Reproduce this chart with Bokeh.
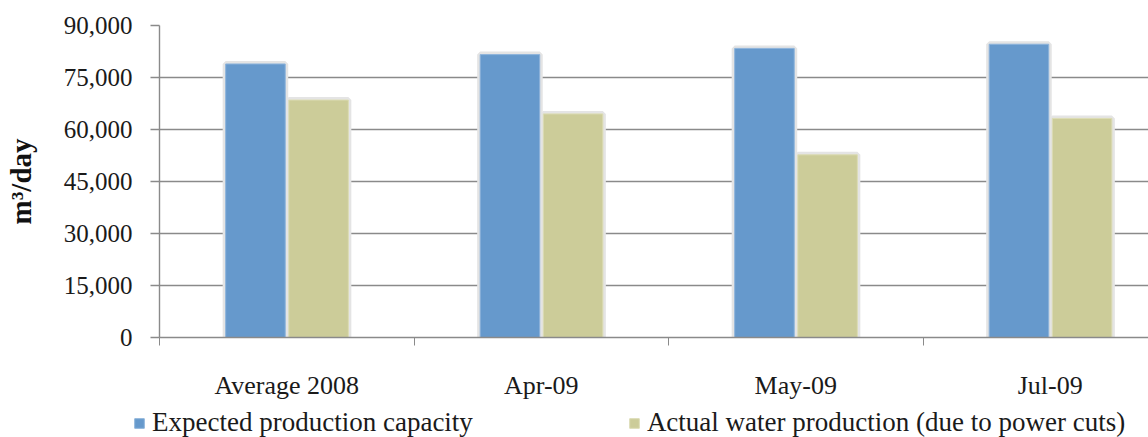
from bokeh.plotting import figure
from bokeh.models import (Range1d, FixedTicker, NumeralTickFormatter, Legend,
                          LegendItem, ColumnDataSource)
from bokeh.transform import dodge
from bokeh.embed import file_html
from bokeh.resources import INLINE

categories = ["Average 2008", "Apr-09", "May-09", "Jul-09"]
expected = [78900, 81600, 83400, 84600]
actual = [68500, 64500, 52700, 63200]
y_ticks = [0, 15000, 30000, 45000, 60000, 75000, 90000]
series_names = ["Expected production capacity",
                "Actual water production (due to power cuts)"]

x = [i + 0.5 for i in range(len(categories))]
source = ColumnDataSource(dict(x=x, expected=expected, actual=actual))

FONT = "Liberation Serif"
BLUE = "#6699CC"
TAN = "#CCCC99"
GRAY = "#8a8a8a"

p = figure(width=1148, height=405, x_range=Range1d(0, 3.886),
           y_range=Range1d(0, 90000), output_backend="svg",
           toolbar_location=None, min_border_left=159, min_border_top=25,
           min_border_bottom=68, min_border_right=0)
p.outline_line_color = None
p.background_fill_color = "white"
p.xgrid.visible = False
p.ygrid.grid_line_color = GRAY
p.ygrid.grid_line_width = 1.4

# soft shadows behind bars
p.vbar(x=dodge("x", -0.123), top="expected", width=0.234, fill_color=None,
       line_color="#e4e4e4", line_width=6, source=source)
p.vbar(x=dodge("x", 0.125), top="actual", width=0.234, fill_color=None,
       line_color="#e4e4e4", line_width=6, source=source)

p.vbar(x=dodge("x", -0.123), top="expected", width=0.234,
       fill_color=BLUE, line_color="#8db3db", line_width=1, source=source)
p.vbar(x=dodge("x", 0.125), top="actual", width=0.234,
       fill_color=TAN, line_color="#dcdcb4", line_width=1, source=source)

# x axis
xa = p.xaxis[0]
xa.ticker = FixedTicker(ticks=x, minor_ticks=list(range(len(categories))))
xa.major_label_overrides = {xx: c for xx, c in zip(x, categories)}
xa.major_tick_out = 0
xa.major_tick_in = 0
xa.minor_tick_out = 8
xa.minor_tick_in = 0
xa.minor_tick_line_color = GRAY
xa.axis_line_color = GRAY
xa.axis_line_width = 1.4
xa.major_label_standoff = 25
xa.major_label_text_font = FONT
xa.major_label_text_font_size = "26px"
xa.major_label_text_color = "#1a1a1a"

# y axis
ya = p.yaxis[0]
ya.ticker = FixedTicker(ticks=y_ticks, minor_ticks=[])
ya.formatter = NumeralTickFormatter(format="0,0")
ya.major_tick_out = 9
ya.major_tick_in = 0
ya.major_tick_line_color = GRAY
ya.major_tick_line_width = 1.4
ya.axis_line_color = GRAY
ya.axis_line_width = 1.4
ya.major_label_standoff = 18
ya.major_label_text_font = FONT
ya.major_label_text_font_size = "25px"
ya.major_label_text_color = "#1a1a1a"
ya.axis_label = "m³/day"
ya.axis_label_text_font = FONT
ya.axis_label_text_font_size = "29px"
ya.axis_label_text_font_style = "bold"
ya.axis_label_text_color = "#111111"
ya.axis_label_standoff = 24

# legend strip beneath the chart (same series, bars kept below its view)
q = figure(width=1148, height=32, x_range=Range1d(0, 3.886),
           y_range=Range1d(200000, 300000), output_backend="svg",
           toolbar_location=None, x_axis_location=None,
           y_axis_location=None, min_border=0)
q.outline_line_color = None
q.xgrid.visible = False
q.ygrid.visible = False
k1 = q.vbar(x=dodge("x", -0.123), top="expected", width=0.234,
            fill_color=BLUE, line_color="#8db3db", line_width=1, source=source)
k2 = q.vbar(x=dodge("x", 0.125), top="actual", width=0.234,
            fill_color=TAN, line_color="#dcdcb4", line_width=1, source=source)

legend = Legend(items=[LegendItem(label=series_names[0], renderers=[k1]),
                       LegendItem(label=series_names[1], renderers=[k2])],
                orientation="horizontal", location=(133, -1),
                glyph_width=12, glyph_height=12, label_standoff=7,
                spacing=155, padding=0, margin=0, border_line_color=None,
                background_fill_alpha=0, label_text_font=FONT,
                label_text_font_size="27px", label_text_color="#1a1a1a")
q.add_layout(legend, "center")

open("out.html", "w").write(file_html([p, q], INLINE))
